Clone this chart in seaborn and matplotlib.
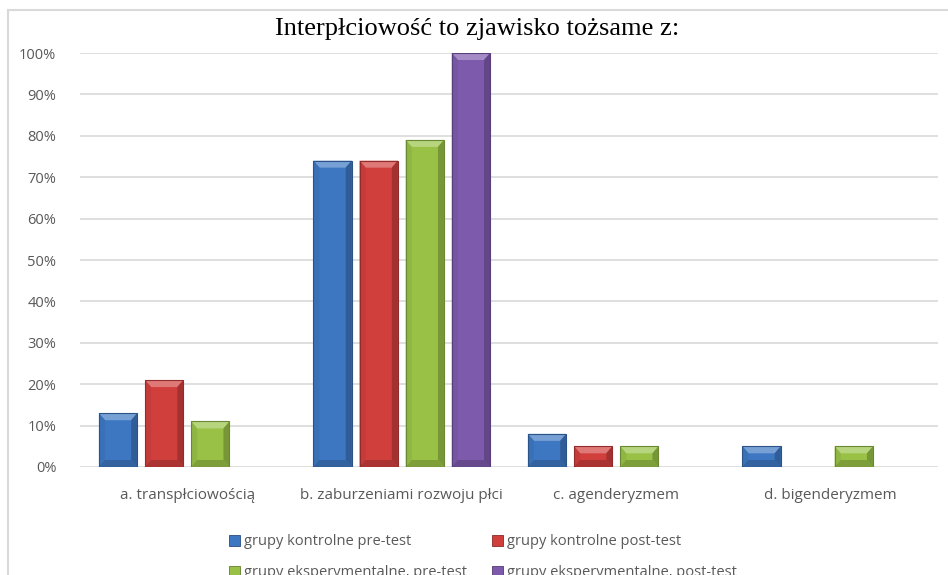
import numpy as np
import pandas as pd
import seaborn as sns
import matplotlib
matplotlib.use("Agg")
import matplotlib.pyplot as plt
from matplotlib.patches import Polygon, Rectangle
from matplotlib.lines import Line2D
from matplotlib.colors import to_rgb
from matplotlib.ticker import FuncFormatter

# --- data -------------------------------------------------------------
title = "Interpłciowość to zjawisko tożsame z:"
categories = [
    "a. transpłciowością",
    "b. zaburzeniami rozwoju płci",
    "c. agenderyzmem",
    "d. bigenderyzmem",
]
series = [
    "grupy kontrolne pre-test",
    "grupy kontrolne post-test",
    "grupy eksperymentalne, pre-test",
    "grupy eksperymentalne, post-test",
]
kontrolne_pre = [13, 74, 8, 5]
kontrolne_post = [21, 74, 5, 0]
eksperymentalne_pre = [11, 79, 5, 5]
eksperymentalne_post = [0, 100, 0, 0]
y_ticks = [0, 10, 20, 30, 40, 50, 60, 70, 80, 90, 100]

colors = ["#3D77C2", "#D13F3D", "#98C146", "#7E5AAD"]

values = [kontrolne_pre, kontrolne_post, eksperymentalne_pre, eksperymentalne_post]
df = pd.DataFrame(
    [(c, s, v[i]) for s, v in zip(series, values) for i, c in enumerate(categories)],
    columns=["kategoria", "grupa", "procent"],
)

# --- figure -----------------------------------------------------------
sns.set_theme(style="white")
plt.rcParams["font.family"] = ["Open Sans", "DejaVu Sans"]

W, H = 948, 575
fig = plt.figure(figsize=(W / 100, H / 100), dpi=100)
ax = fig.add_axes([80 / W, 1 - 467 / H, (938 - 80) / W, (467 - 53) / H])

sns.barplot(
    data=df, x="kategoria", y="procent", hue="grupa",
    order=categories, hue_order=series, palette=colors,
    width=0.86, gap=0.17, ax=ax, legend=True, saturation=1,
    linewidth=0, zorder=3,
)

ax.set_ylim(0, 100)
ax.set_xlim(-0.5, len(categories) - 0.5)
ax.set_yticks(y_ticks)
ax.yaxis.set_major_formatter(FuncFormatter(lambda v, p: f"{int(v)}%"))
ax.grid(axis="y", color="#D9D9D9", linewidth=1.2, zorder=0)
ax.grid(axis="x", visible=False)
for s in ax.spines.values():
    s.set_visible(False)
ax.tick_params(axis="y", length=0, pad=17, labelsize=10.5, labelcolor="#595959")
ax.tick_params(axis="x", length=0, pad=15, labelsize=11, labelcolor="#595959")
ax.set_xlabel("")
ax.set_ylabel("")


def shade(c, k):
    c = np.array(to_rgb(c))
    if k >= 0:
        return tuple(c + (1 - c) * k)
    return tuple(c * (1 + k))


# bevelled look for each bar
px_x = (len(categories)) / (938 - 80)
px_y = 100 / (467 - 53)
bars = [p for p in ax.patches if isinstance(p, Rectangle)]
for p in bars:
    if p.get_height() <= 0:
        continue
    base = p.get_facecolor()[:3]
    x0, y0 = p.get_x(), p.get_y()
    x1, y1 = x0 + p.get_width(), y0 + p.get_height()
    bx, by = 6 * px_x, 7 * px_y
    by = min(by, (y1 - y0) / 2.2)
    pieces = [
        ([(x0, y1), (x1, y1), (x1 - bx, y1 - by), (x0 + bx, y1 - by)], shade(base, 0.3)),
        ([(x0, y1), (x0 + bx, y1 - by), (x0 + bx, y0 + by), (x0, y0)], shade(base, -0.06)),
        ([(x1, y1), (x1, y0), (x1 - bx, y0 + by), (x1 - bx, y1 - by)], shade(base, -0.22)),
        ([(x0, y0), (x0 + bx, y0 + by), (x1 - bx, y0 + by), (x1, y0)], shade(base, -0.18)),
    ]
    for pts, col in pieces:
        ax.add_patch(Polygon(pts, closed=True, facecolor=col, edgecolor="none", zorder=4))
    ax.add_patch(Rectangle((x0, y0), x1 - x0, y1 - y0, facecolor="none",
                           edgecolor=shade(base, -0.3), linewidth=0.8, zorder=5))

# legend below the plot, two columns filled row by row
ax.get_legend().remove()
leg_handles = [Rectangle((0, 0), 1, 1, facecolor=c, edgecolor=shade(c, -0.35), linewidth=0.6)
               for c in colors]
order = [0, 2, 1, 3]
fig.legend(
    [leg_handles[i] for i in order], [series[i] for i in order],
    ncol=2, loc="upper left",
    bbox_to_anchor=(222 / W, 1 - 527 / H), frameon=False,
    fontsize=10.5, labelcolor="#595959",
    handlelength=0.75, handleheight=0.75, handletextpad=0.25,
    columnspacing=1.75, labelspacing=1.1, borderpad=0,
)

fig.text(477 / W, 1 - 29 / H, title, ha="center", va="center",
         fontsize=19, family=["Liberation Serif", "DejaVu Serif"], color="black")

# outer frame (left and top edges)
frame_col = "#D9D9D9"
fig.add_artist(Line2D([7.5 / W, 7.5 / W], [0, 1 - 10 / H], color=frame_col, linewidth=1.5))
fig.add_artist(Line2D([7.5 / W, 1], [1 - 10 / H, 1 - 10 / H], color=frame_col, linewidth=1.5))

fig.savefig("out.png", dpi=100, facecolor="white")
